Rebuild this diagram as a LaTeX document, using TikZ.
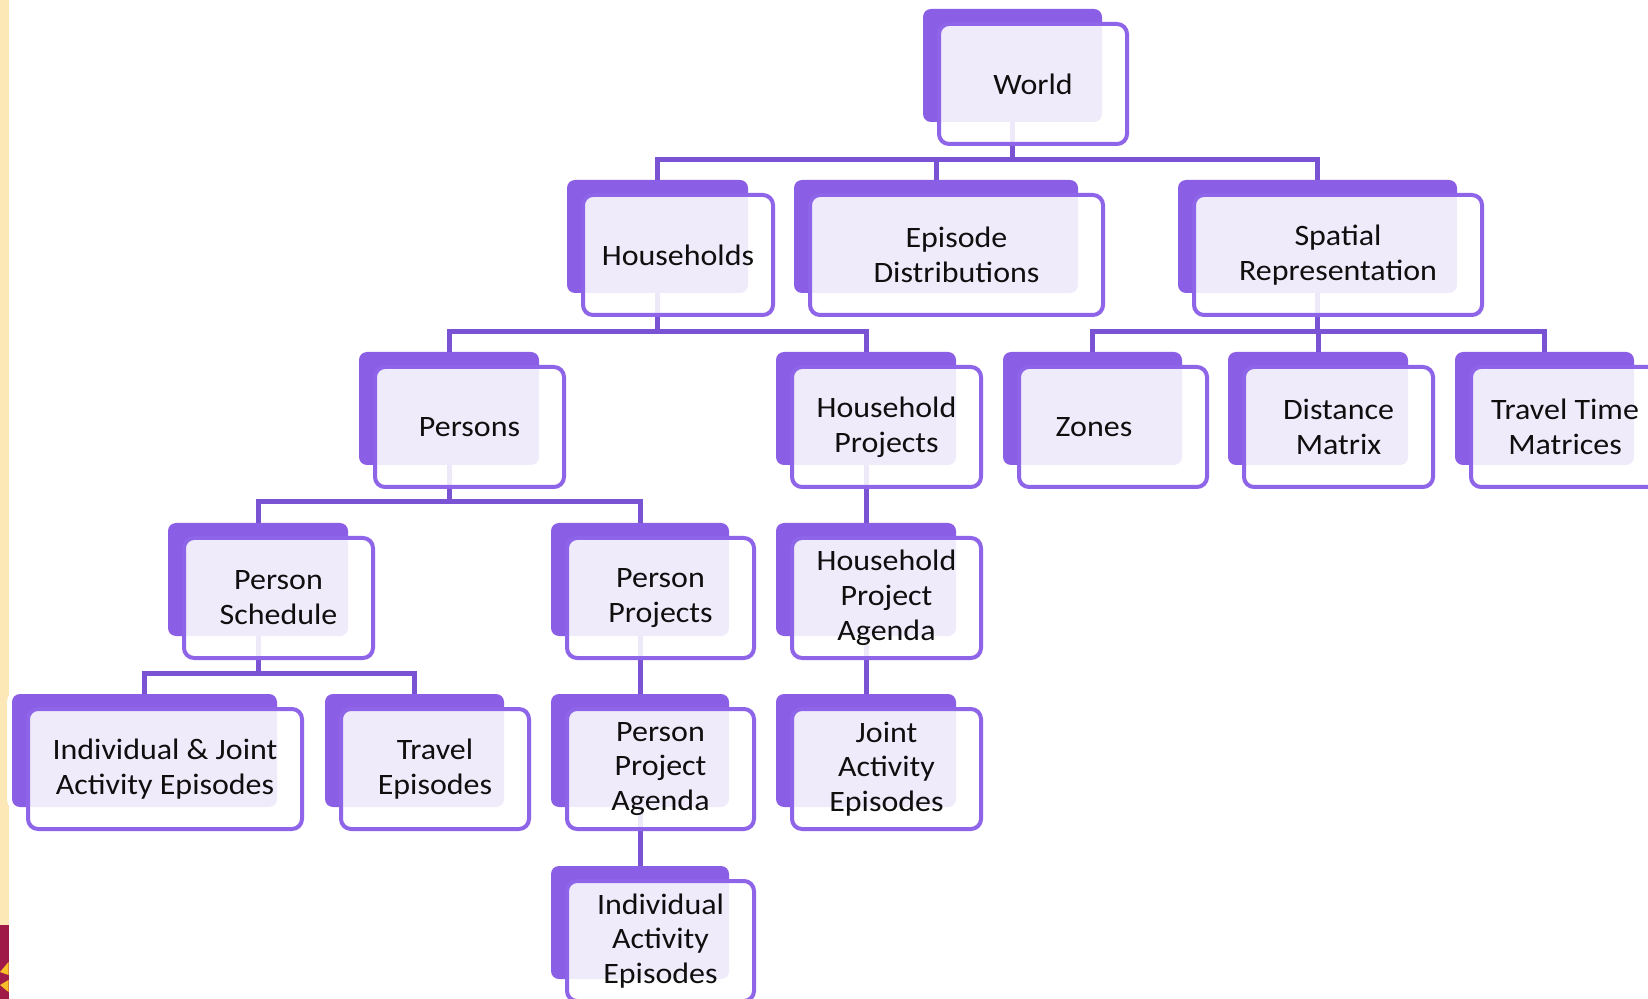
\documentclass[tikz,border=0pt]{standalone}
\usepackage{fontspec}
\setmainfont{Carlito}[FakeStretch=1.08]
\usetikzlibrary{fit}
\definecolor{pback}{RGB}{139,94,230}
\definecolor{pline}{RGB}{122,82,212}
\definecolor{pfront}{RGB}{142,100,232}
\definecolor{txt}{RGB}{15,15,15}
\definecolor{stripcol}{RGB}{252,231,182}
\definecolor{maroonc}{RGB}{160,26,72}
\definecolor{sunc}{RGB}{246,190,40}
\tikzset{
 backbox/.style={preaction={draw=white,line width=5pt}, fill=pback, rounded corners=4pt, inner sep=0pt},
 frontbox/.style={fill=white, fill opacity=0.88, text opacity=1, draw=pfront, draw opacity=1, line width=2pt, rounded corners=5pt, inner sep=0pt, align=center, font=\fontsize{14.8pt}{17.4pt}\selectfont, text=txt},
 conn/.style={draw=pline, line width=2.5pt},
}
\newcommand\bk[4]{\node[backbox, fit={(#2,#4) (#3,#4+113)}] (#1) {};}
\newcommand\fr[5]{\node[frontbox, minimum width={(#3+9-#2)*0.5pt}, minimum height=60pt] (#1F) at ({(#2+#3)/2+20.5}, #4+75) {#5};}
\begin{document}
\begin{tikzpicture}[x=0.5pt,y=-0.5pt]
\useasboundingbox (0,0) rectangle (1648,999);
\fill[white] (0,0) rectangle (1648,999);
% left decorative strip
\fill[stripcol] (0,0) rectangle (8.5,999);
\fill[maroonc] (0,925) rectangle (8.5,999);
\fill[sunc] (0,972) -- (8.5,962) -- (8.5,975) -- cycle;
\fill[sunc] (0,985) -- (8.5,980) -- (8.5,992) -- cycle;
% back boxes
\bk{W}{923}{1102}{9}
\bk{H}{567}{748}{180}
\bk{ED}{794}{1078}{180}
\bk{SR}{1178}{1457}{180}
\bk{P}{359}{539}{352}
\bk{HP}{776}{956}{352}
\bk{Z}{1003}{1182}{352}
\bk{DM}{1228}{1408}{352}
\bk{TT}{1455}{1634}{352}
\bk{PS}{168}{348}{523}
\bk{PP}{551}{729}{523}
\bk{HPA}{776}{956}{523}
\bk{IJ}{12}{277}{694}
\bk{TE}{325}{504}{694}
\bk{PPA}{551}{729}{694}
\bk{JA}{776}{956}{694}
\bk{IA}{551}{729}{866}
% bar levels
\coordinate (b1) at (0,160);
\coordinate (b2) at (0,332);
\coordinate (b3) at (0,502);
\coordinate (b4) at (0,673);
% connectors
\draw[conn] (H.north) |- (SR.north |- b1) -- (SR.north);
\draw[conn] (W.south) -- (W.south |- b1);
\draw[conn] (ED.north) -- (ED.north |- b1);
\draw[conn] (P.north) |- (HP.north |- b2) -- (HP.north);
\draw[conn] (H.south) -- (H.south |- b2);
\draw[conn] (Z.north) |- (TT.north |- b2) -- (TT.north);
\draw[conn] (SR.south) -- (SR.south |- b2);
\draw[conn] (DM.north) -- (DM.north |- b2);
\draw[conn] (PS.north) |- (PP.north |- b3) -- (PP.north);
\draw[conn] (P.south) -- (P.south |- b3);
\draw[conn] (HP.south) -- (HPA.north);
\draw[conn] (IJ.north) |- (TE.north |- b4) -- (TE.north);
\draw[conn] (PS.south) -- (PS.south |- b4);
\draw[conn] (PP.south) -- (PPA.north);
\draw[conn] (HPA.south) -- (JA.north);
\draw[conn] (PPA.south) -- (IA.north);
% front boxes
\fr{W}{923}{1102}{9}{World}
\fr{H}{567}{748}{180}{Households}
\fr{ED}{794}{1078}{180}{Episode\\Distributions}
\fr{SR}{1178}{1457}{180}{Spatial\\Representation}
\fr{P}{359}{539}{352}{Persons}
\fr{HP}{776}{956}{352}{Household\\Projects}
\fr{Z}{1003}{1182}{352}{\hspace*{-19pt}Zones}
\fr{DM}{1228}{1408}{352}{Distance\\Matrix}
\fr{TT}{1455}{1634}{352}{Travel Time\\Matrices}
\fr{PS}{168}{348}{523}{Person\\Schedule}
\fr{PP}{551}{729}{523}{Person\\Projects}
\fr{HPA}{776}{956}{523}{Household\\Project\\Agenda}
\fr{IJ}{12}{277}{694}{Individual \& Joint\\Activity Episodes}
\fr{TE}{325}{504}{694}{Travel\\Episodes}
\fr{PPA}{551}{729}{694}{Person\\Project\\Agenda}
\fr{JA}{776}{956}{694}{Joint\\Activity\\Episodes}
\fr{IA}{551}{729}{866}{Individual\\Activity\\Episodes}
\end{tikzpicture}
\end{document}
